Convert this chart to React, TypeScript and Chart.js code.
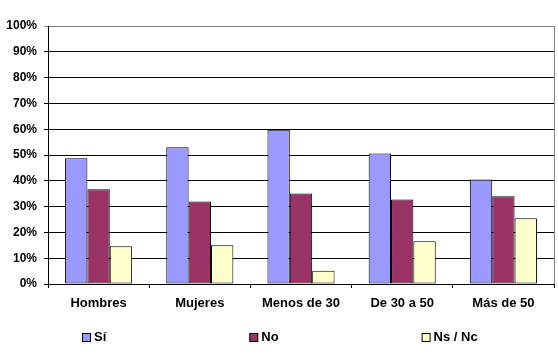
import React, { useEffect, useRef } from "react";
import { Chart, registerables } from "chart.js";

Chart.register(...registerables);

const categories = ["Hombres", "Mujeres", "Menos de 30", "De 30 a 50", "Más de 50"];
const siValues = [48.7, 53.0, 59.8, 50.6, 40.5];
const noValues = [36.7, 32.0, 35.1, 32.8, 34.0];
const nsValues = [14.6, 15.0, 5.1, 16.6, 25.5];
const seriesNames = ["Sí", "No", "Ns / Nc"];
const seriesColors = ["#9999FF", "#993366", "#FFFFCC"];

const FONT = '"Liberation Sans", Arial, sans-serif';

const legendPlugin = {
  id: "customLegend",
  afterDraw(chart: any) {
    const ctx = chart.ctx;
    const ds = chart.data.datasets;
    ctx.save();
    ctx.font = `bold 13px ${FONT}`;
    const box = 8;
    const gap = 3;
    const pad = 144;
    const widths = ds.map((d: any) => box + gap + ctx.measureText(d.label).width);
    const total = widths.reduce((a: number, b: number) => a + b, 0) + pad * (ds.length - 1);
    let x = Math.round((chart.width - total) / 2);
    const boxTop = 333;
    const baseline = 341;
    ds.forEach((d: any, i: number) => {
      ctx.fillStyle = d.backgroundColor;
      ctx.fillRect(x + 0.5, boxTop + 0.5, box, box);
      ctx.strokeStyle = "#000";
      ctx.lineWidth = 1;
      ctx.strokeRect(x + 0.5, boxTop + 0.5, box, box);
      ctx.fillStyle = "#000";
      ctx.textBaseline = "alphabetic";
      ctx.textAlign = "left";
      ctx.fillText(d.label, x + box + gap + 1, baseline);
      x += widths[i] + pad;
    });
    // right border of plot area
    const a = chart.chartArea;
    ctx.strokeStyle = "#808080";
    ctx.beginPath();
    ctx.moveTo(Math.round(a.right) + 0.5, a.top);
    ctx.lineTo(Math.round(a.right) + 0.5, a.bottom);
    ctx.stroke();
    ctx.restore();
  },
};

export default function App() {
  const ref = useRef<HTMLCanvasElement>(null);
  useEffect(() => {
    if (!ref.current) return;
    const values = [siValues, noValues, nsValues];
    const chart = new Chart(ref.current, {
      type: "bar",
      data: {
        labels: categories,
        datasets: seriesNames.map((name, i) => ({
          label: name,
          data: values[i],
          backgroundColor: seriesColors[i],
          borderColor: "#000",
          borderWidth: 1,
          borderSkipped: false,
          categoryPercentage: 0.663,
          barPercentage: 1,
        })),
      },
      options: {
        responsive: false,
        animation: false,
        events: [],
        layout: { padding: { top: 26, right: 4, left: 0, bottom: 46 } },
        plugins: {
          legend: { display: false },
          tooltip: { enabled: false },
          title: { display: false },
        },
        scales: {
          x: {
            offset: true,
            afterFit: (s: any) => {
              s.height = 30;
            },
            grid: {
              offset: true,
              drawOnChartArea: false,
              drawTicks: true,
              tickLength: 4,
              color: "#000",
            },
            border: { display: true, color: "#000" },
            ticks: {
              color: "#000",
              padding: 8,
              maxRotation: 0,
              font: { family: FONT, size: 13, weight: "bold" },
            },
          },
          y: {
            min: 0,
            max: 100,
            afterFit: (s: any) => {
              s.width = 48;
            },
            grid: {
              drawTicks: true,
              tickLength: 4,
              color: (c: any) => (c.tick && c.tick.value === 100 ? "#808080" : "#000"),
            },
            border: { display: true, color: "#000" },
            ticks: {
              stepSize: 10,
              padding: 7,
              color: "#000",
              font: { family: FONT, size: 12, weight: "bold" },
              callback: (v: any) => v + "%",
            },
          },
        },
      },
      plugins: [legendPlugin],
    });
    return () => chart.destroy();
  }, []);
  return (
    <div style={{ position: "absolute", left: 0, top: 0, width: 558, height: 360, background: "#fff" }}>
      <canvas ref={ref} width={558} height={360} />
    </div>
  );
}
